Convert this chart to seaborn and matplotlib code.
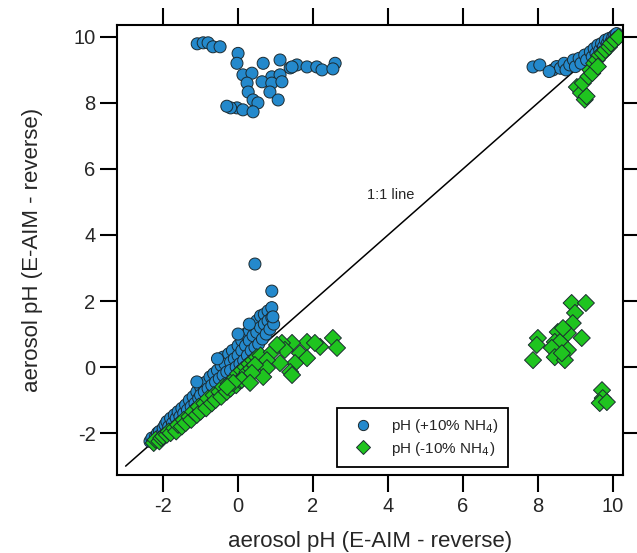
import numpy as np
import pandas as pd
import matplotlib
matplotlib.use("Agg")
import matplotlib.pyplot as plt
import seaborn as sns

# pH (+10% NH4) vs reverse E-AIM pH
plus_x = [
    # low-pH branch along the 1:1 line
    -2.35, -2.3, -2.2, -2.15, -2.1, -2.05, -2.0, -1.95, -1.9, -1.85, -1.8, -1.75,
    -1.7, -1.65, -1.6, -1.55, -1.5, -1.45, -1.4, -1.35, -1.3, -1.25, -1.2, -1.15,
    -1.1, -1.05, -1.0, -1.0, -0.95, -0.9, -0.85, -0.8, -0.75, -0.7, -0.65, -0.6,
    -0.55, -0.5, -0.45, -0.4, -0.4, -0.35, -0.3, -0.25, -0.2, -0.2, -0.15, -0.1,
    -0.05, 0.0, 0.0, 0.05, 0.1, 0.1, 0.15, 0.2, 0.2, 0.25, 0.3, 0.3, 0.35, 0.4,
    0.4, 0.45, 0.5, 0.5, 0.55, 0.6, 0.6, 0.65, 0.7, 0.7, 0.75, 0.8, 0.8, 0.85,
    0.9, 0.9, 0.95, 0.9, 0.45, -1.1, -0.55, 0.0, 0.3, 0.93,
    # high-y cluster at low x
    -1.09, -0.93, -0.8, -0.67, -0.48, 0.0, -0.03, 0.13, 0.37, 0.24, 0.67, 1.12,
    1.39, 1.57, 1.84, 2.1, 2.24, 2.59, 2.53, 0.9, 1.12, 0.64, 0.9, 1.17, 0.85,
    1.07, 0.27, 0.4, 0.53, -0.03, 0.13, 0.4, 1.44, -0.2, -0.3,
    # high-pH branch
    7.87, 8.05, 8.4, 8.5, 8.6, 8.7, 8.75, 8.85, 8.95, 9.0, 9.1, 9.15, 9.25, 9.3,
    9.4, 9.45, 9.5, 9.55, 9.6, 9.65, 9.7, 9.75, 9.8, 9.85, 9.9, 9.95, 10.0,
    10.05, 10.1, 8.3,
]
plus_y = [
    -2.25, -2.15, -2.1, -2.0, -1.95, -2.05, -1.85, -1.75, -1.65, -1.8, -1.55, -1.7,
    -1.45, -1.55, -1.35, -1.5, -1.25, -1.4, -1.15, -1.3, -1.0, -1.2, -0.9, -1.1,
    -0.75, -0.95, -0.6, -0.85, -0.5, -0.75, -0.45, -0.65, -0.3, -0.55, -0.2, -0.45,
    -0.1, -0.35, 0.05, -0.25, 0.3, 0.1, -0.15, 0.4, 0.15, -0.1, 0.5, 0.25,
    0.0, 0.65, 0.35, 0.1, 0.8, 0.5, 0.2, 1.0, 0.65, 0.35, 1.1, 0.8, 0.5, 1.25,
    0.95, 0.6, 1.4, 1.05, 0.7, 1.55, 1.2, 0.85, 1.6, 1.3, 1.0, 1.7, 1.4, 1.15,
    1.8, 1.5, 1.3, 2.3, 3.12, -0.45, 0.25, 1.0, 1.3, 1.52,
    9.79, 9.82, 9.82, 9.7, 9.7, 9.5, 9.2, 8.85, 8.9, 8.6, 9.2, 9.3,
    9.06, 9.15, 9.09, 9.09, 9.0, 9.2, 9.03, 8.79, 8.85, 8.64, 8.6, 8.64, 8.33,
    8.09, 8.33, 8.09, 8.0, 7.85, 7.79, 7.73, 9.09, 7.85, 7.9,
    9.09, 9.15, 9.0, 9.1, 9.05, 9.2, 9.0, 9.15, 9.3, 9.1, 9.35, 9.2, 9.45, 9.3,
    9.55, 9.4, 9.65, 9.5, 9.75, 9.6, 9.8, 9.7, 9.9, 9.8, 9.95, 9.85, 10.0,
    10.05, 10.1, 8.95,
]

# pH (-10% NH4) vs reverse E-AIM pH
minus_x = [
    # low-pH branch below the 1:1 line
    -2.25, -2.2, -2.1, -2.05, -2.0, -1.9, -1.85, -1.8, -1.7, -1.65, -1.6, -1.5,
    -1.45, -1.4, -1.3, -1.25, -1.2, -1.1, -1.05, -1.0, -0.9, -0.85, -0.8, -0.7,
    -0.65, -0.6, -0.5, -0.45, -0.4, -0.3, -0.25, -0.2, -0.1, -0.05, 0.0, 0.05,
    0.1, 0.15, 0.2, 0.25, 0.3, 0.35, 0.4, 0.45, 0.5, 0.55, 0.6,
    2.53, 2.64, 2.19, 1.84, 2.05, 1.44, 1.17, 1.65, 1.84, 1.52, 1.39, 1.12,
    1.25, 0.9, 0.77, 0.77, 0.45, 0.67, 0.37, 0.1, 0.32, -0.13, -0.29, 1.04, 1.44,
    # high-pH branch
    9.04, 9.15, 9.25, 9.3, 9.2, 9.35, 9.4, 9.5, 9.57, 9.65, 9.73, 9.8, 9.9,
    9.95, 10.05, 10.15, 9.45, 9.6,
    # mid-range cluster at high x
    8.9, 9.28, 8.99, 8.93, 8.53, 8.8, 9.17, 8.0, 7.97, 8.45, 8.59, 8.37, 8.8,
    7.87, 8.45, 8.72, 8.64, 8.67, 9.71, 9.73, 9.65, 9.84,
]
minus_y = [
    -2.3, -2.2, -2.25, -2.15, -2.1, -2.05, -1.95, -2.0, -1.85, -1.95, -1.75, -1.8,
    -1.6, -1.7, -1.5, -1.6, -1.35, -1.45, -1.2, -1.35, -1.1, -1.25, -0.95, -1.1,
    -0.85, -1.0, -0.75, -0.9, -0.6, -0.75, -0.5, -0.65, -0.35, -0.55, -0.2, -0.4,
    -0.1, -0.3, 0.0, -0.15, 0.1, -0.05, 0.2, 0.05, 0.3, 0.15, 0.35,
    0.88, 0.58, 0.61, 0.76, 0.73, 0.73, 0.73, 0.42, 0.27, 0.12, -0.15, 0.12,
    0.52, 0.45, 0.21, -0.03, 0.06, -0.3, -0.18, -0.39, -0.48, -0.48, -0.6, 0.67, -0.24,
    8.48, 8.3, 8.1, 8.2, 8.6, 8.8, 9.0, 9.2, 9.3, 9.45, 9.5, 9.6, 9.7,
    9.8, 9.9, 10.0, 8.9, 9.1,
    1.94, 1.94, 1.64, 1.33, 1.06, 1.03, 0.88, 0.88, 0.67, 0.76, 0.76, 0.58, 0.52,
    0.21, 0.3, 0.21, 0.42, 1.18, -0.7, -0.94, -1.09, -1.06,
]

plus_label = "pH (+10% NH$_4$)"
minus_label = "pH (-10% NH$_4$)"
ticks = [-2, 0, 2, 4, 6, 8, 10]
one_to_one = [-3, 10.1]

df = pd.concat([
    pd.DataFrame({"x": plus_x, "y": plus_y, "series": plus_label}),
    pd.DataFrame({"x": minus_x, "y": minus_y, "series": minus_label}),
], ignore_index=True)

sns.set_style("white")
plt.rcParams["font.family"] = ["Liberation Sans", "DejaVu Sans"]
plt.rcParams["axes.unicode_minus"] = False

fig = plt.figure(figsize=(6.37, 5.53), dpi=100)
ax = fig.add_axes([0.1837, 0.141, 0.7943, 0.8138])

ax.plot(one_to_one, one_to_one, color="black", lw=1.1, zorder=1)

sns.scatterplot(
    data=df, x="x", y="y", hue="series", style="series",
    palette={plus_label: "#2489cc", minus_label: "#1fc41f"},
    markers={plus_label: "o", minus_label: "D"},
    s=75, edgecolor="#1b2a30", linewidth=0.7, alpha=1.0,
    ax=ax, zorder=2,
)

ax.text(4.08, 5.2, "1:1 line", fontsize=10.5, ha="center", va="center")

ax.set_xlim(-3.23, 10.27)
ax.set_ylim(-3.27, 10.36)
ax.set_xticks(ticks)
ax.set_yticks(ticks)
ax.set_xlabel("aerosol pH (E-AIM - reverse)", fontsize=16, labelpad=11)
ax.set_ylabel("aerosol pH (E-AIM - reverse)", fontsize=16, labelpad=22)

for sp in ax.spines.values():
    sp.set_visible(True)
    sp.set_color("black")
    sp.set_linewidth(1.5)

ax.tick_params(axis="both", which="major", direction="out", length=12,
               width=1.5, color="black", labelsize=14.5,
               top=True, right=True, bottom=True, left=True,
               labeltop=False, labelright=False)

leg = ax.legend(loc="lower left", bbox_to_anchor=(0.435, 0.018),
                borderaxespad=0, frameon=True, fancybox=False, framealpha=1,
                fontsize=11, handletextpad=0.7, borderpad=0.6,
                labelspacing=0.3, handlelength=2.2, markerscale=0.85)
leg.get_frame().set_edgecolor("black")
leg.get_frame().set_linewidth(1.3)
leg.set_title(None)

fig.savefig("out.png", dpi=100)
